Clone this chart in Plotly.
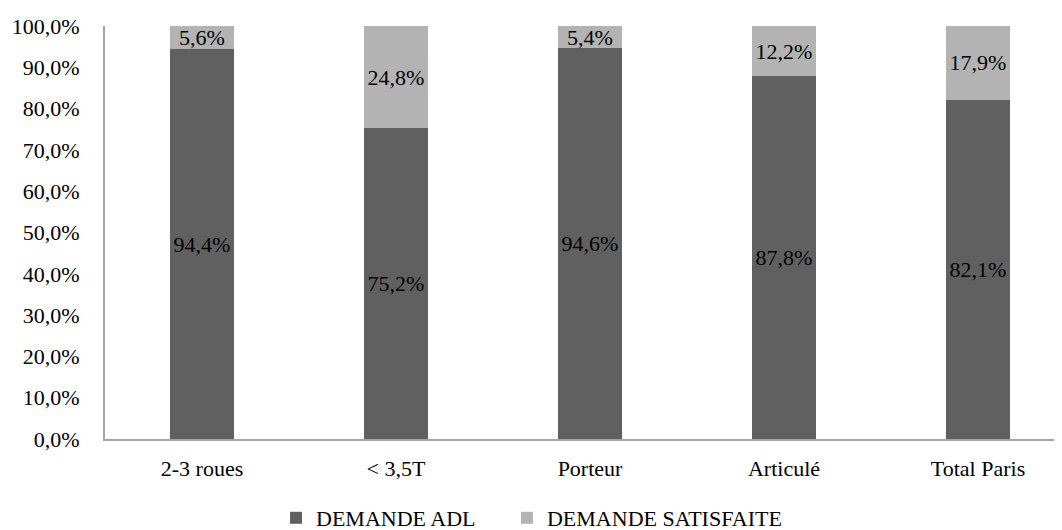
import plotly.graph_objects as go

categories = ["2-3 roues", "< 3,5T", "Porteur", "Articulé", "Total Paris"]
demande_adl = [94.4, 75.2, 94.6, 87.8, 82.1]
demande_satisfaite = [5.6, 24.8, 5.4, 12.2, 17.9]
y_ticks = [0, 10, 20, 30, 40, 50, 60, 70, 80, 90, 100]

FONT = dict(family="Liberation Serif, Times New Roman, serif", size=22, color="#000000")


def pct(v):
    return f"{v:.1f}%".replace(".", ",")


fig = go.Figure()
fig.add_bar(
    x=categories, y=demande_adl, name="DEMANDE ADL",
    marker=dict(color="#606060", line=dict(width=0)),
    text=[pct(v) for v in demande_adl], textposition="inside",
    insidetextanchor="middle", textfont=FONT, textangle=0,
    constraintext="none", width=0.33, legend="legend",
)
fig.add_bar(
    x=categories, y=demande_satisfaite, name="DEMANDE SATISFAITE",
    marker=dict(color="#b3b3b3", line=dict(width=0)),
    text=[pct(v) for v in demande_satisfaite], textposition="inside",
    insidetextanchor="middle", textfont=FONT, textangle=0,
    constraintext="none", width=0.33, legend="legend2",
)

legend_common = dict(orientation="h", xref="container", xanchor="left",
                     yref="container", y=0.023, yanchor="middle",
                     font=FONT, itemwidth=30)

# page body has an 8px margin, so the figure is drawn 8px smaller and offset
fig.update_layout(
    barmode="stack",
    width=1054, height=522,
    margin=dict(l=97, r=0, t=18, b=91),
    font=FONT,
    paper_bgcolor="white", plot_bgcolor="white",
    showlegend=True,
    legend=dict(x=0.2543, **legend_common),
    legend2=dict(x=0.4734, **legend_common),
)
fig.update_xaxes(
    range=[-0.5, 4.433], showline=True, linecolor="#a6a6a6", linewidth=2,
    ticks="outside", ticklen=9, tickcolor="rgba(0,0,0,0)", showgrid=False,
    automargin=False,
)
fig.update_yaxes(
    range=[0, 100], tickvals=y_ticks, ticktext=[pct(v) for v in y_ticks],
    showline=True, linecolor="#a6a6a6", linewidth=2,
    ticks="outside", ticklen=19, tickcolor="rgba(0,0,0,0)", showgrid=False,
    zeroline=False, automargin=False,
)

fig.write_html("out.html")
